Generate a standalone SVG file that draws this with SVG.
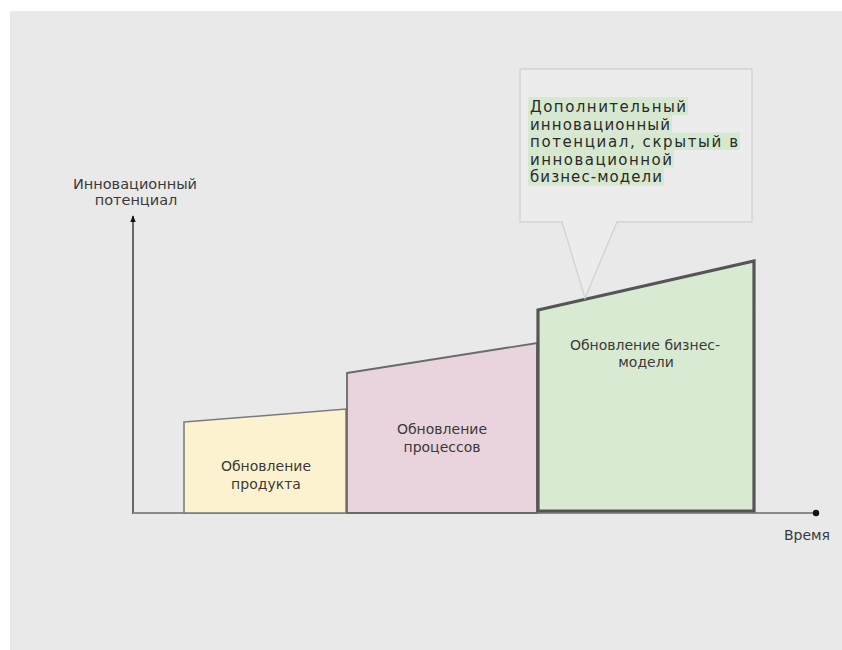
<svg xmlns="http://www.w3.org/2000/svg" width="842" height="650" viewBox="0 0 842 650">
  <defs>
    <style>
      .lbl { font-family: "DejaVu Sans", "Liberation Sans", sans-serif; fill: #3a3a3a; text-anchor: middle; }
      .box { font-size: 14px; }
      .call { font-family: "DejaVu Sans", "Liberation Sans", sans-serif; font-size: 15px; fill: #2a2a2a; }
      .hl { fill: #d6e8cf; }
    </style>
    <marker id="arr" viewBox="0 0 10 10" refX="9" refY="5" markerWidth="6" markerHeight="6" orient="auto-start-reverse">
      <path d="M0,1 L10,5 L0,9 z" fill="#111"/>
    </marker>
    <marker id="dot" viewBox="0 0 10 10" refX="5" refY="5" markerWidth="4" markerHeight="4">
      <circle cx="5" cy="5" r="4" fill="#111"/>
    </marker>
  </defs>
  <rect x="0" y="0" width="842" height="650" fill="#ffffff"/>
  <rect x="10" y="11" width="832" height="639" fill="#e9e9e9"/>

  <g id="connectors">
    <line x1="133" y1="514" x2="133" y2="216" stroke="#111" stroke-width="1.2" marker-end="url(#arr)"/>
    <line x1="133" y1="513" x2="816" y2="513" stroke="#8a8a8a" stroke-width="2" marker-end="url(#dot)"/>
  </g>

  <g id="node-product">
    <polygon points="184,422 346,409 346,513 184,513" fill="#fdf2cf" stroke="#7a7a7a" stroke-width="1.5"/>
    <text class="lbl box" x="266" y="471">Обновление</text>
    <text class="lbl box" x="266" y="489">продукта</text>
  </g>

  <g id="node-process">
    <polygon points="347,373 537,343 537,513 347,513" fill="#e9d3dc" stroke="#6a6a6a" stroke-width="1.8"/>
    <text class="lbl box" x="442" y="434">Обновление</text>
    <text class="lbl box" x="442" y="452">процессов</text>
  </g>

  <g id="node-business">
    <polygon points="538,310 754,261 754,511 538,511" fill="#d9ead3" stroke="#555" stroke-width="3.2"/>
    <text class="lbl box" x="645" y="350">Обновление бизнес-</text>
    <text class="lbl box" x="646" y="367">модели</text>
  </g>

  <g id="node-yaxis-label">
    <text class="lbl" x="135" y="189" font-size="14.5">Инновационный</text>
    <text class="lbl" x="136" y="205" font-size="14.5">потенциал</text>
  </g>

  <g id="node-xaxis-label">
    <text class="lbl" x="807" y="540" font-size="14">Время</text>
  </g>

  <g id="node-callout">
    <path d="M520,69 H752 V222 H617 L585,298 L562,222 H520 Z" fill="#ececec" stroke="#d2d2d2" stroke-width="1.3"/>
    <rect class="hl" x="528" y="97" width="160" height="18"/>
    <rect class="hl" x="528" y="115" width="144" height="17.5"/>
    <rect class="hl" x="528" y="132.5" width="212" height="17.5"/>
    <rect class="hl" x="528" y="150" width="146" height="17.5"/>
    <rect class="hl" x="528" y="167.5" width="136" height="18"/>
    <text class="call" x="530" y="112" textLength="156">Дополнительный</text>
    <text class="call" x="530" y="129.5" textLength="140">инновационный</text>
    <text class="call" x="530" y="147" textLength="208">потенциал, скрытый в</text>
    <text class="call" x="530" y="164.5" textLength="142">инновационной</text>
    <text class="call" x="530" y="182" textLength="132">бизнес-модели</text>
  </g>
</svg>
